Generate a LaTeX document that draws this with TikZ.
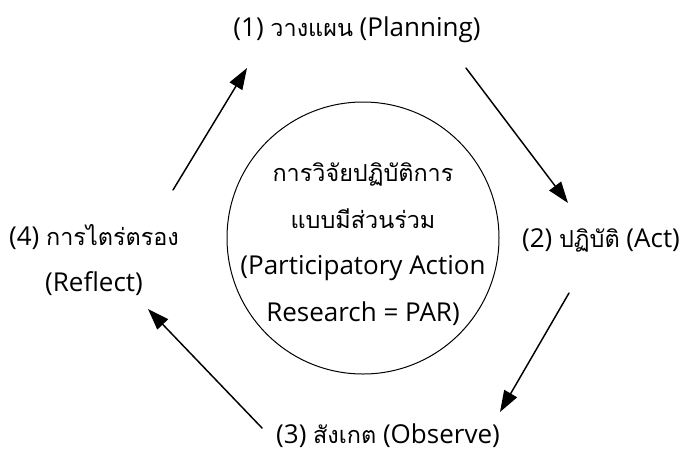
\documentclass[tikz,border=0pt]{standalone}
\usepackage{fontspec}
\setmainfont{Open Sans}
\newfontfamily\thaifont[Script=Thai,Scale=0.9]{Loma}
\usetikzlibrary{arrows.meta,positioning}

\newcommand{\thw}[1]{{\thaifont #1}}

\tikzset{
  steplabel/.style={font=\fontsize{19.5}{35}\selectfont,align=center,inner sep=0pt},
  cyclearrow/.style={line width=1.1pt,-{Triangle[length=16pt,width=11pt]}}
}

\begin{document}
\begin{tikzpicture}[x=0.75pt,y=-0.75pt,line cap=round,line join=round]
  \useasboundingbox (0,0) rectangle (686,458);
  \node[draw,circle,line width=0.75pt,minimum size=204pt,inner sep=0pt] (parcircle) at (363,238) {};
  \node[steplabel] (par) at (363,244) {\thw{การวิจัยปฏิบัติการ}\\ \thw{แบบมีส่วนร่วม}\\ (Participatory Action\\ Research = PAR)};
  \node[steplabel] (plan) at (357,30) {(1) \thw{วางแผน} (Planning)};
  \node[steplabel] (act) at (601,240) {(2) \thw{ปฏิบัติ} (Act)};
  \node[steplabel] (observe) at (388,436) {(3) \thw{สังเกต} (Observe)};
  \node[steplabel] (reflect) at (94,260) {(4) \thw{การไตร่ตรอง}\\ (Reflect)};
  \coordinate (plan-in) at (247,68);
  \coordinate (plan-out) at (466,68);
  \coordinate (act-in) at (568,203);
  \coordinate (act-out) at (569,293);
  \coordinate (observe-in) at (500,412);
  \coordinate (observe-out) at (262,428);
  \coordinate (reflect-in) at (148,309);
  \coordinate (reflect-out) at (173,190);
  \draw[cyclearrow] (plan-out) -- (act-in);
  \draw[cyclearrow] (act-out) -- (observe-in);
  \draw[cyclearrow] (observe-out) -- (reflect-in);
  \draw[cyclearrow] (reflect-out) -- (plan-in);
\end{tikzpicture}
\end{document}
